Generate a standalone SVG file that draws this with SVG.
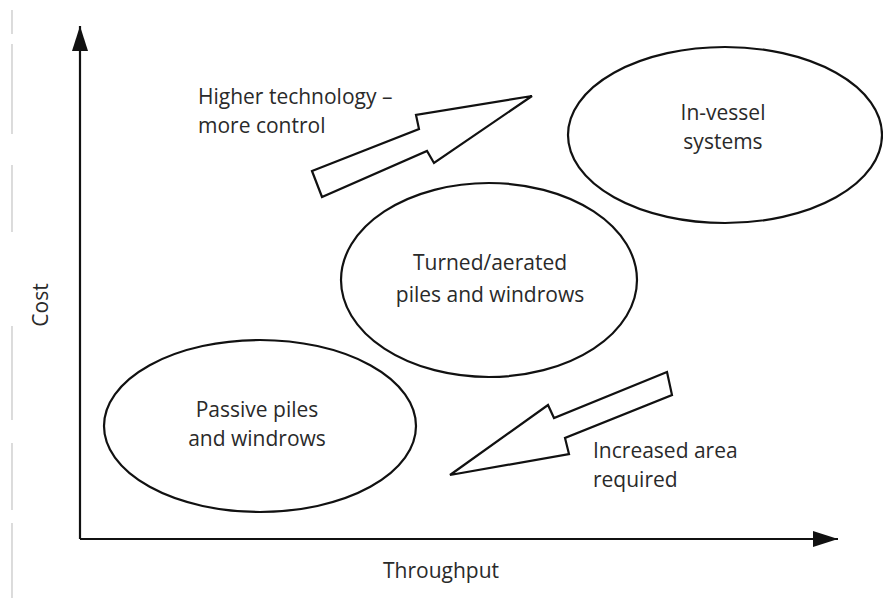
<svg xmlns="http://www.w3.org/2000/svg" width="883" height="599" viewBox="0 0 883 599">
<style>
  .shape { fill: #ffffff; stroke: #111111; stroke-width: 2.2; }
  .axis { stroke: #111111; stroke-width: 2.2; fill: none; }
  .lbl { font-family: "Open Sans", Lato, "Liberation Sans", sans-serif; font-size: 21px; fill: #2a2a2a; }
  .mid { text-anchor: middle; }
  .edge { stroke: #c4c4c4; stroke-width: 1.2; }
</style>
<defs>
  <marker id="ah" viewBox="0 0 25 16" refX="25" refY="8" markerWidth="25" markerHeight="16" markerUnits="userSpaceOnUse" orient="auto">
    <path d="M0,0 L25,8 L0,16 Z" fill="#111111"/>
  </marker>
</defs>
<rect width="883" height="599" fill="#ffffff"/>
<g id="page-edge">
  <line class="edge" x1="12" y1="10" x2="12" y2="34"/>
  <line class="edge" x1="12" y1="44" x2="12" y2="134"/>
  <line class="edge" x1="12" y1="165" x2="12" y2="232"/>
  <line class="edge" x1="12" y1="326" x2="12" y2="420"/>
  <line class="edge" x1="12" y1="443" x2="12" y2="510"/>
  <line class="edge" x1="12" y1="523" x2="12" y2="598"/>
</g>
<g id="connectors">
  <path id="y-axis" class="axis" d="M80,539 L80,26" marker-end="url(#ah)"/>
  <path id="x-axis" class="axis" d="M80,539 L838,539" marker-end="url(#ah)"/>
  <polygon id="arrow-up" class="shape" points="312,171 419,129 416,115 532,96 434,163 427,151 322,197"/>
  <polygon id="arrow-down" class="shape" points="667,372 672,395 565,438 569,454 450,475 548,405 554,418"/>
</g>
<g id="passive">
  <ellipse class="shape" cx="260" cy="426" rx="156" ry="86"/>
  <text class="lbl mid" x="257" y="417">Passive piles</text>
  <text class="lbl mid" x="257" y="446">and windrows</text>
</g>
<g id="turned">
  <ellipse class="shape" cx="489" cy="280" rx="148" ry="97"/>
  <text class="lbl mid" x="490" y="270">Turned/aerated</text>
  <text class="lbl mid" x="490" y="302">piles and windrows</text>
</g>
<g id="invessel">
  <ellipse class="shape" cx="725" cy="135" rx="157" ry="88"/>
  <text class="lbl mid" x="723" y="120">In-vessel</text>
  <text class="lbl mid" x="723" y="149">systems</text>
</g>
<g id="labels">
  <text class="lbl" x="198" y="104">Higher technology –</text>
  <text class="lbl" x="198" y="133">more control</text>
  <text class="lbl" x="593" y="458">Increased area</text>
  <text class="lbl" x="593" y="487">required</text>
  <text class="lbl mid" x="441" y="578">Throughput</text>
  <text class="lbl mid" transform="translate(48,305) rotate(-90)">Cost</text>
</g>
</svg>
